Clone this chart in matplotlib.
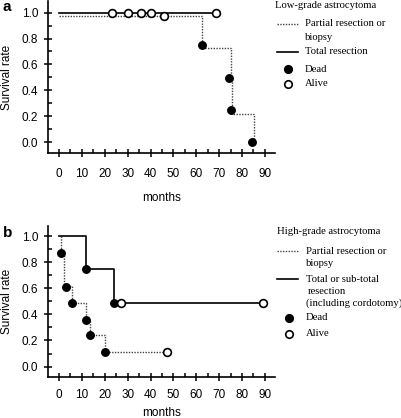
import matplotlib
matplotlib.use("Agg")
import matplotlib.pyplot as plt
from matplotlib.lines import Line2D
from matplotlib.ticker import MultipleLocator

plt.rcParams['font.family'] = 'Liberation Sans'

# ---- panel a: low-grade astrocytoma ----
a_total_x = [0, 68.5]
a_total_y = [1.0, 1.0]
a_total_alive_x = [23, 30, 36, 40, 68.5]
a_total_alive_y = [1.0, 1.0, 1.0, 1.0, 1.0]

a_part_x = [0, 62.6, 62.6, 75.1, 75.1, 75.5, 75.5, 85.2, 85.2]
a_part_y = [0.975, 0.975, 0.73, 0.73, 0.49, 0.49, 0.22, 0.22, 0.0]
a_part_alive_x = [45.9]
a_part_alive_y = [0.975]
a_dead_x = [62.3, 74.3, 75.1, 84.5]
a_dead_y = [0.75, 0.495, 0.245, 0.0]

# ---- panel b: high-grade astrocytoma ----
b_total_x = [0, 11.8, 11.8, 23.9, 23.9, 89.3]
b_total_y = [1.0, 1.0, 0.75, 0.75, 0.49, 0.49]
b_total_dead_x = [11.8, 23.9]
b_total_dead_y = [0.745, 0.49]
b_total_alive_x = [27.3, 89.3]
b_total_alive_y = [0.49, 0.49]

b_part_x = [0.9, 0.9, 2.3, 2.3, 5.5, 5.5, 11.8, 11.8, 13.7, 13.7, 20.2, 20.2, 47.3]
b_part_y = [1.0, 0.87, 0.87, 0.62, 0.62, 0.49, 0.49, 0.36, 0.36, 0.24, 0.24, 0.11, 0.11]
b_part_dead_x = [0.9, 3.1, 5.8, 12.0, 13.7, 20.3]
b_part_dead_y = [0.867, 0.613, 0.49, 0.36, 0.24, 0.108]
b_part_alive_x = [47.3]
b_part_alive_y = [0.11]

xticks = [0, 10, 20, 30, 40, 50, 60, 70, 80, 90]
yticks = [0.0, 0.2, 0.4, 0.6, 0.8, 1.0]

W, H = 402, 418
fig = plt.figure(figsize=(W / 100, H / 100), dpi=100)


def px_axes(left, right, top, bottom):
    return fig.add_axes([left / W, 1 - bottom / H, (right - left) / W, (bottom - top) / H])


def style(ax, ylo, yhi, xpad, label_y):
    ax.set_xlim(-4.8, 94.4)
    ax.set_ylim(ylo, yhi)
    for s in ['top', 'right']:
        ax.spines[s].set_visible(False)
    for s in ['left', 'bottom']:
        ax.spines[s].set_linewidth(1.2)
    ax.set_xticks(xticks)
    ax.set_yticks(yticks)
    ax.set_yticklabels([f"{v:.1f}" for v in yticks])
    ax.xaxis.set_minor_locator(MultipleLocator(5))
    ax.yaxis.set_minor_locator(MultipleLocator(0.1))
    ax.tick_params(which='major', direction='inout', length=6, width=1.1, labelsize=8.5, pad=4)
    ax.tick_params(axis='x', which='major', pad=xpad)
    ax.tick_params(which='minor', direction='in', length=3, width=1.1)
    ax.set_ylabel("Survival rate", fontsize=8.5, labelpad=6)
    ax.set_xlabel("months", fontsize=8.5, va='center')
    ax.xaxis.set_label_coords(0.5, label_y)


def dead(ax, x, y):
    ax.plot(x, y, 'o', ms=5.4, mfc='black', mec='black', zorder=5, clip_on=False)


def alive(ax, x, y):
    ax.plot(x, y, 'o', ms=5.6, mfc='white', mec='black', mew=1.2, zorder=5, clip_on=False)


axa = px_axes(48, 275, 1, 153)
style(axa, -0.085, 1.09, 7.5, -0.296)
axa.plot(a_part_x, a_part_y, color='#444444', ls=(0, (1, 1)), lw=1.0)
axa.plot(a_total_x, a_total_y, color='black', lw=1.2)
dead(axa, a_dead_x, a_dead_y)
alive(axa, a_total_alive_x, a_total_alive_y)
alive(axa, a_part_alive_x, a_part_alive_y)

axb = px_axes(48, 275, 226, 377)
style(axb, -0.08, 1.077, 5.5, -0.238)
axb.plot(b_part_x, b_part_y, color='#444444', ls=(0, (1, 1)), lw=1.0)
axb.plot(b_total_x, b_total_y, color='black', lw=1.2)
dead(axb, b_part_dead_x, b_part_dead_y)
dead(axb, b_total_dead_x, b_total_dead_y)
alive(axb, b_part_alive_x, b_part_alive_y)
alive(axb, b_total_alive_x, b_total_alive_y)

fig.text(3 / W, 1 - 7 / H, "a", fontsize=11, fontweight='bold', va='center')
fig.text(3 / W, 1 - 233 / H, "b", fontsize=11, fontweight='bold', va='center')


def ftext(x, y, s):
    fig.text(x / W, 1 - y / H, s, fontsize=7.7, family='Liberation Serif', va='center')


def fline(x0, x1, y, **kw):
    fig.add_artist(Line2D([x0 / W, x1 / W], [1 - y / H, 1 - y / H], transform=fig.transFigure, **kw))


def fmark(x, y, fc):
    fig.add_artist(Line2D([x / W], [1 - y / H], marker='o', ms=5.4, mfc=fc, mec='black', mew=1.2,
                          transform=fig.transFigure))


# legend a
ftext(275, 6, "Low-grade astrocytoma")
fline(277, 298, 24, color='#444444', ls=(0, (1, 1)), lw=1.0)
ftext(305, 24, "Partial resection or")
ftext(305, 38, "biopsy")
fline(277, 298, 52, color='black', lw=1.2)
ftext(305, 52, "Total resection")
fmark(288, 69, 'black')
ftext(305, 69, "Dead")
fmark(288, 84, 'white')
ftext(305, 84, "Alive")

# legend b
ftext(277, 232, "High-grade astrocytoma")
fline(277, 298, 251, color='#444444', ls=(0, (1, 1)), lw=1.0)
ftext(306, 251, "Partial resection or")
ftext(306, 264, "biopsy")
fline(277, 298, 279, color='black', lw=1.2)
ftext(306, 279, "Total or sub-total")
ftext(308, 291, "resection")
ftext(306, 303, "(including cordotomy)")
fmark(289, 318, 'black')
ftext(306, 318, "Dead")
fmark(289, 334, 'white')
ftext(306, 334, "Alive")

fig.savefig("out.png", dpi=100)
